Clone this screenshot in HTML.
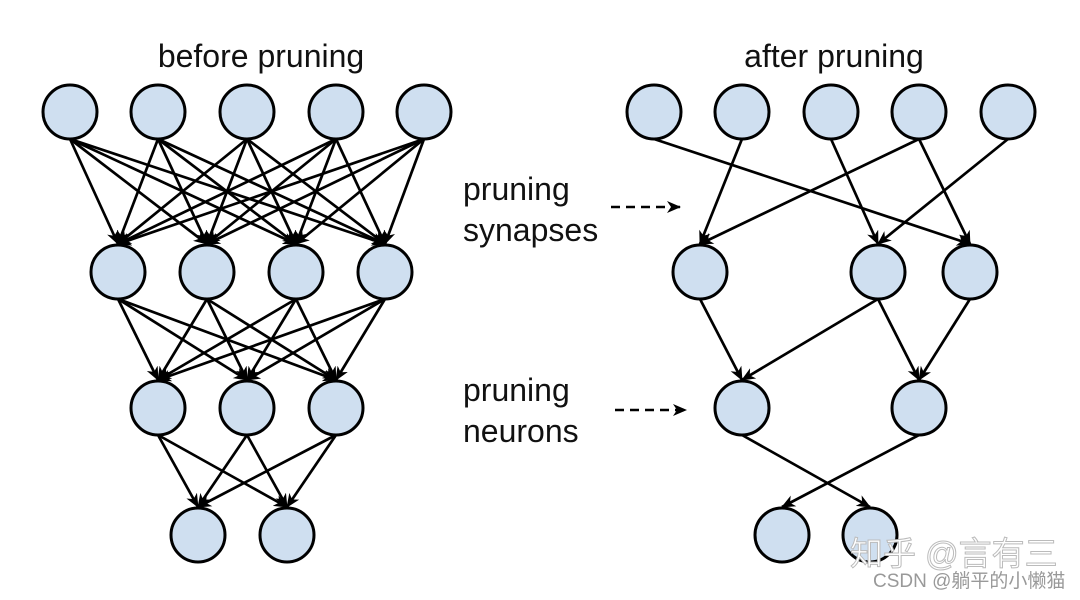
<!DOCTYPE html>
<html><head><meta charset="utf-8"><style>
body{margin:0;background:#fff;width:1080px;height:600px;overflow:hidden}
svg{display:block}
text{font-family:"Liberation Sans",sans-serif;fill:#111}
</style></head><body>
<svg id="s" width="1080" height="600" xmlns="http://www.w3.org/2000/svg">
<defs><marker id="a" markerWidth="14" markerHeight="14" refX="13" refY="6" orient="auto" markerUnits="userSpaceOnUse"><path d="M0,0 L14,6 L0,12 L4,6 Z" fill="#000"/></marker></defs>
<g id="e" stroke="#000" stroke-width="2.7" fill="none"></g>
<g id="n" fill="#cfdff0" stroke="#000" stroke-width="3"></g>
<text x="261" y="67" font-size="32" text-anchor="middle">before pruning</text>
<text x="834" y="67" font-size="32" text-anchor="middle">after pruning</text>
<text x="463" y="200" font-size="32">pruning</text>
<text x="463" y="241" font-size="32">synapses</text>
<text x="463" y="401" font-size="32">pruning</text>
<text x="463" y="442" font-size="32">neurons</text>
<line x1="611" y1="207" x2="680" y2="207" stroke="#000" stroke-width="2.5" stroke-dasharray="9,6" marker-end="url(#a)"/>
<line x1="615" y1="410" x2="686" y2="410" stroke="#000" stroke-width="2.5" stroke-dasharray="9,6" marker-end="url(#a)"/>
<text x="850" y="565" font-size="33" style="fill:#fff;stroke:#bbb;stroke-width:1" font-family="Noto Sans CJK SC">知乎 @言有三</text>
<text x="873" y="587" font-size="19" style="fill:#999" font-family="Liberation Sans,Noto Sans CJK SC,sans-serif">CSDN @躺平的小懒猫</text>
</svg>
<script>
var R=27,NS="http://www.w3.org/2000/svg";
var L=[[[70,112],[158,112],[247,112],[336,112],[424,112]],[[118,272],[207,272],[296,272],[385,272]],[[158,408],[247,408],[336,408]],[[198,535],[287,535]]];
var Rt=[[[654,112],[742,112],[831,112],[919,112],[1008,112]],[[700,272],[878,272],[970,272]],[[742,408],[919,408]],[[782,535],[870,535]]];
var eg=document.getElementById('e'),ng=document.getElementById('n');
function edge(p,q){var l=document.createElementNS(NS,'line');l.setAttribute('x1',p[0]);l.setAttribute('y1',p[1]+R);l.setAttribute('x2',q[0]);l.setAttribute('y2',q[1]-R-1);l.setAttribute('marker-end','url(#a)');eg.appendChild(l);}
for(var i=0;i<3;i++)L[i].forEach(function(p){L[i+1].forEach(function(q){edge(p,q)})});
[[0,0,1,2],[0,1,1,0],[0,2,1,1],[0,3,1,0],[0,3,1,2],[0,4,1,1],[1,0,2,0],[1,1,2,0],[1,1,2,1],[1,2,2,1],[2,0,3,1],[2,1,3,0]].forEach(function(e){edge(Rt[e[0]][e[1]],Rt[e[2]][e[3]])});
L.concat(Rt).forEach(function(r){r.forEach(function(p){var c=document.createElementNS(NS,'circle');c.setAttribute('cx',p[0]);c.setAttribute('cy',p[1]);c.setAttribute('r',R);ng.appendChild(c);})});
var s=document.getElementById('s');s.appendChild(s.querySelector('text[font-size="33"]'));s.appendChild(s.querySelector('text[font-size="19"]'));
</script>
</body></html>
